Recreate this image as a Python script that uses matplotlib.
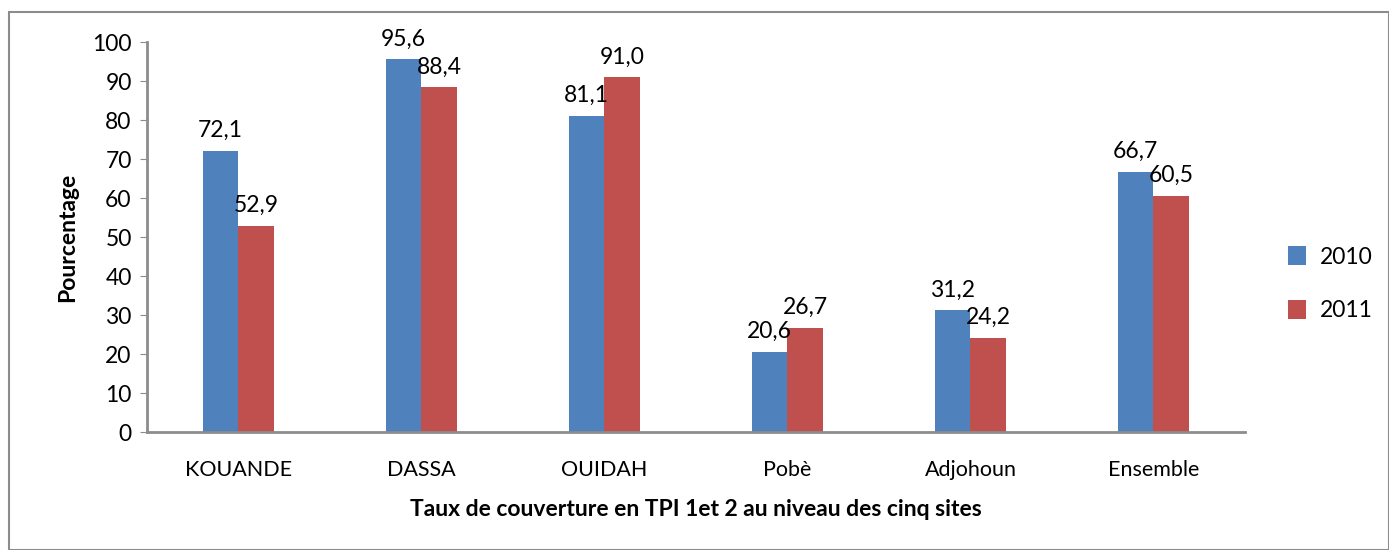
import numpy as np
import matplotlib.pyplot as plt
from matplotlib.patches import Rectangle

sites = ['KOUANDE', 'DASSA', 'OUIDAH', 'Pobè', 'Adjohoun', 'Ensemble']
taux_2010 = [72.1, 95.6, 81.1, 20.6, 31.2, 66.7]
taux_2011 = [52.9, 88.4, 91.0, 26.7, 24.2, 60.5]
yticks = np.arange(0, 101, 10)

plt.rcParams['font.family'] = ['Lato', 'DejaVu Sans']

fig = plt.figure(figsize=(13.89, 5.5), dpi=100)
ax = fig.add_axes([0.1058, 0.2145, 0.7905, 0.7091])

# cadre gris autour du graphique
fig.patches.append(Rectangle((9/1389, 0), 1 - 9/1389, 1 - 12/550, transform=fig.transFigure,
                             fill=False, edgecolor='#8c8c8c', linewidth=1.5))

x = np.arange(len(sites))
w = 0.196
b1 = ax.bar(x - w/2, taux_2010, w, color='#4F81BD', label='2010')
b2 = ax.bar(x + w/2, taux_2011, w, color='#C0504D', label='2011')

for bars, vals in ((b1, taux_2010), (b2, taux_2011)):
    for r, v in zip(bars, vals):
        ax.text(r.get_x() + r.get_width()/2, v + 2.5, f'{v:.1f}'.replace('.', ','),
                ha='center', va='bottom', fontsize=16.5)

ax.set_xlim(-0.5, len(sites) - 0.5)
ax.set_ylim(0, 100)
ax.set_yticks(yticks)
ax.set_xticks(x)
ax.set_xticklabels(sites)
ax.tick_params(axis='y', labelsize=16.5, length=5, color='#8c8c8c', pad=6)
ax.tick_params(axis='x', labelsize=15.5, length=0, pad=20)

for s in ('top', 'right'):
    ax.spines[s].set_visible(False)
for s in ('left', 'bottom'):
    ax.spines[s].set_color('#8c8c8c')
    ax.spines[s].set_linewidth(2)

ax.set_ylabel('Pourcentage', fontsize=16.5, fontweight='bold', labelpad=10)
ax.set_xlabel('Taux de couverture en TPI 1et 2 au niveau des cinq sites', fontsize=16.5,
              fontweight='bold', labelpad=14)

ax.legend(loc='center left', bbox_to_anchor=(1.02, 0.38), frameon=False, fontsize=16.5,
          handlelength=0.8, handleheight=0.9, handletextpad=0.6, labelspacing=1.4)

fig.savefig('out.png', dpi=100)
